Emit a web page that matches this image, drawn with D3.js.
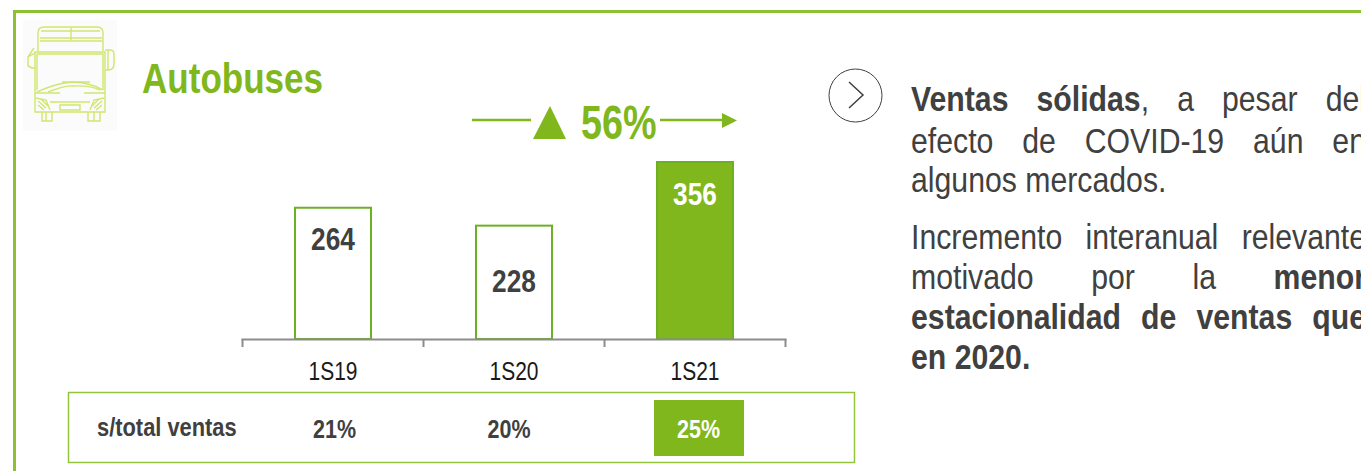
<!DOCTYPE html>
<html>
<head>
<meta charset="utf-8">
<script src="https://cdn.jsdelivr.net/npm/d3@7"></script>
<style>
  html, body { margin: 0; background: #fff; overflow: hidden; }
  svg { display: block; font-family: "Liberation Sans", Arial, sans-serif; }
</style>
</head>
<body>
<svg id="chart" width="1361" height="471"></svg>
<script>
const categories = ['1S19', '1S20', '1S21'];
const sales = [264, 228, 356];
const shares = ['21%', '20%', '25%'];
const growthLabel = '56%';
const title = 'Autobuses';
const rowLabel = 's/total ventas';
// one entry per line: [text, bold] runs, and whether the line is justified
const bodyLines = [
  { y: 111, just: true, runs: [['Ventas sólidas', true], [', a pesar del', false]] },
  { y: 153, just: true, runs: [['efecto de COVID-19 aún en', false]] },
  { y: 192, just: false, runs: [['algunos mercados.', false]] },
  { y: 249, just: true, runs: [['Incremento interanual relevante', false]] },
  { y: 289, just: true, runs: [['motivado por la ', false], ['menor', true]] },
  { y: 329, just: true, runs: [['estacionalidad de ventas que', true]] },
  { y: 369, just: false, runs: [['en 2020.', true]] },
];

const green = '#80b71d';
const edge = '#6cb023';
const dark = '#404040';
const svg = d3.select('#chart');

// No narrow font is installed, so squeeze Liberation Sans horizontally
function squeezed(sel, x, y, sx) {
  return sel.attr('transform', `translate(${x},${y}) scale(${sx},1)`);
}

// Panel border, open on the right and bottom
svg.append('path')
  .attr('d', 'M14.5,471V11.5H1361')
  .attr('fill', 'none')
  .attr('stroke', '#8dc032')
  .attr('stroke-width', 3);

// ---------- Bus icon ----------
svg.append('filter').attr('id', 'soft')
  .append('feGaussianBlur').attr('stdDeviation', 0.45);
const bus = svg.append('g');
bus.append('rect').attr('x', 23).attr('y', 20).attr('width', 94).attr('height', 111).attr('fill', '#fbfbfb');
const busLines = bus.append('g')
  .attr('filter', 'url(#soft)')
  .attr('fill', 'none').attr('stroke', '#cfe66f').attr('stroke-width', 1.4);
[
  'M38,51 V33 Q38,27 44,27 H97 Q103,27 103,33 V51',
  'M41,31 H100 M40,38 H102 M40,41 H102 M71,28 V40',
  'M35,52 H105 V112 H35 Z',
  'M37,54 H103 V90 M37,54 V90',
  'M35,53 L28,57 V66 L32,68 H35 M28,57 L34,48',
  'M105,50 H110 Q114,50 114,54 V64 Q114,70 108,70 H105 M108,50 V70',
  'M37,92 Q52,85 65,83 Q85,80 103,90',
  'M48,92 Q66,85 72,86 Q90,85 100,90',
  'M62,82 H90 M35,93 H60 M84,93 H105',
  'M36,98 L46,100 L50,110 M104,98 L94,100 L90,110',
  'M38,101 L46,108 M41,99 L48,106 M38,105 L44,110 M102,101 L94,108 M99,99 L92,106 M102,105 L96,110',
  'M50,102 H90 M60,105 H80 V110 H60 Z',
  'M42,112 V121 H52 V112 M46,112 V121 M88,112 V121 H100 V112 M94,112 V121',
].forEach(d => busLines.append('path').attr('d', d));

// Title
squeezed(svg.append('text'), 142, 93, 0.815)
  .attr('font-size', 43).attr('font-weight', 700)
  .attr('fill', green).text(title);

// ---------- Bars ----------
const x = d3.scaleBand().domain(categories).range([242.5, 785.5]).paddingInner(0.58).paddingOuter(0.29);
const y = d3.scaleLinear().domain([0, 356]).range([339, 162]);

svg.selectAll('rect.bar')
  .data(categories)
  .enter()
  .append('rect')
  .attr('class', 'bar')
  .attr('x', d => x(d))
  .attr('y', (d, i) => y(sales[i]))
  .attr('width', x.bandwidth())
  .attr('height', (d, i) => y(0) - y(sales[i]))
  .attr('fill', (d, i) => i === 2 ? green : '#fff')
  .attr('stroke', edge)
  .attr('stroke-width', 2);

// Value labels sit a fixed distance under each bar top
const labelDrop = [42, 66, 43];
svg.selectAll('text.value')
  .data(categories)
  .enter()
  .append('text')
  .attr('class', 'value')
  .attr('transform', (d, i) => `translate(${x(d) + x.bandwidth() / 2},${y(sales[i]) + labelDrop[i]}) scale(0.82,1)`)
  .attr('text-anchor', 'middle')
  .attr('font-size', 32).attr('font-weight', 700)
  .attr('fill', (d, i) => i === 2 ? '#fff' : dark)
  .text((d, i) => sales[i]);

// Axis line with ticks between the categories
const axisX = d3.scalePoint().domain(d3.range(categories.length + 1)).range([242.5, 785.5]);
const axisG = svg.append('g').attr('stroke', '#8c8c8c').attr('stroke-width', 2).attr('fill', 'none');
axisG.append('line').attr('x1', axisX(0) - 1).attr('x2', axisX(3) + 1).attr('y1', 339.5).attr('y2', 339.5);
axisG.selectAll('line.tick')
  .data(axisX.domain())
  .enter()
  .append('line')
  .attr('class', 'tick')
  .attr('x1', d => axisX(d)).attr('x2', d => axisX(d))
  .attr('y1', 339).attr('y2', 347);

svg.selectAll('text.cat')
  .data(categories)
  .enter()
  .append('text')
  .attr('class', 'cat')
  .attr('transform', d => `translate(${x(d) + x.bandwidth() / 2},380) scale(0.84,1)`)
  .attr('text-anchor', 'middle')
  .attr('font-size', 25)
  .attr('fill', '#1a1a1a')
  .text(d => d);

// ---------- Growth arrow ----------
const growth = svg.append('g');
growth.append('line').attr('x1', 472).attr('x2', 531).attr('y1', 120).attr('y2', 120)
  .attr('stroke', green).attr('stroke-width', 2.5);
growth.append('path').attr('d', 'M533,139 L550,106 L566,139 Z').attr('fill', green);
squeezed(growth.append('text'), 581, 139, 0.77)
  .attr('font-size', 49).attr('font-weight', 700).attr('fill', green).text(growthLabel);
growth.append('line').attr('x1', 660).attr('x2', 723).attr('y1', 120).attr('y2', 120)
  .attr('stroke', green).attr('stroke-width', 2.5);
growth.append('path').attr('d', 'M722,113 L737,120.5 L722,128 Z').attr('fill', green);

// ---------- Share row ----------
svg.append('rect').attr('x', 68.5).attr('y', 392.5).attr('width', 786).attr('height', 70)
  .attr('fill', 'none').attr('stroke', '#93c53c').attr('stroke-width', 1.5);
svg.append('rect').attr('x', 654).attr('y', 400).attr('width', 90).attr('height', 56).attr('fill', green);
squeezed(svg.append('text'), 97, 436, 0.875)
  .attr('font-size', 25).attr('font-weight', 700).attr('fill', dark).text(rowLabel);

const shareX = [334.5, 509, 698.5];
svg.selectAll('text.share')
  .data(shares)
  .enter()
  .append('text')
  .attr('class', 'share')
  .attr('transform', (d, i) => `translate(${shareX[i]},438) scale(0.86,1)`)
  .attr('text-anchor', 'middle')
  .attr('font-size', 25).attr('font-weight', 700)
  .attr('fill', (d, i) => i === 2 ? '#fff' : dark)
  .text(d => d);

// ---------- Right hand text ----------
svg.append('circle').attr('cx', 855.5).attr('cy', 95.5).attr('r', 26.5)
  .attr('fill', '#fff').attr('stroke', '#404040').attr('stroke-width', 1);
svg.append('path').attr('d', 'M849,82 L863,95 L849,108')
  .attr('fill', 'none').attr('stroke', '#404040').attr('stroke-width', 1.5);

const textLeft = 911, textRight = 1366, bodyScale = 0.84;
bodyLines.forEach(line => {
  const t = squeezed(svg.append('text'), textLeft, line.y, bodyScale)
    .attr('font-size', 36).attr('fill', dark);
  line.runs.forEach(([s, bold]) => {
    t.append('tspan').style('white-space', 'pre')
      .attr('font-weight', bold ? 700 : 400).text(s);
  });
  if (line.just) {
    // Justify by spreading the leftover width across the spaces
    const full = line.runs.map(r => r[0]).join('');
    const gaps = (full.match(/ /g) || []).length;
    const extra = (textRight - textLeft) / bodyScale - t.node().getComputedTextLength();
    t.attr('word-spacing', extra / gaps);
  }
});
</script>
</body>
</html>
